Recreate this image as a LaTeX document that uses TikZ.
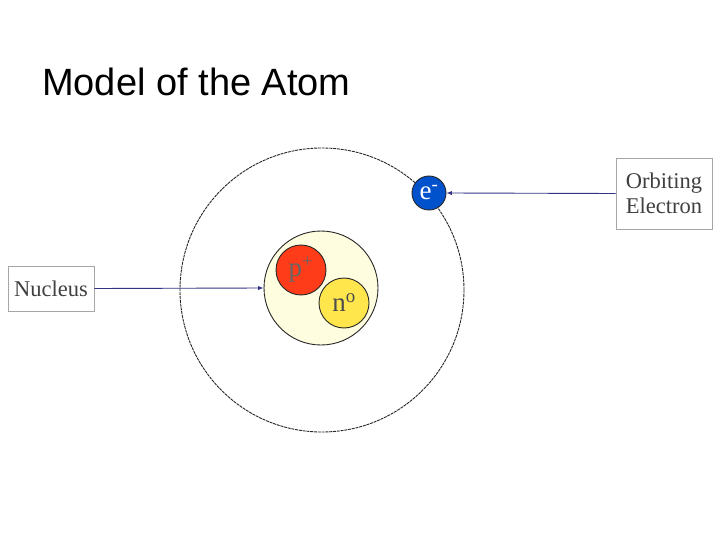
\documentclass[tikz,border=0pt]{standalone}
\usepackage{fontspec}
\setmainfont{Liberation Serif}
\newfontfamily\titlefont{Liberation Sans}
\begin{document}
\begin{tikzpicture}[x=1pt,y=-1pt,
  lbl/.style={draw=gray!70,line width=0.8pt,fill=white,text=black!75,font=\fontsize{22.5}{25}\selectfont,align=left,inner sep=0pt},
  con/.style={-latex,draw=blue!40!black!80,line width=0.9pt},
  part/.style={circle,draw=black!85,line width=0.9pt,inner sep=0pt}]
\useasboundingbox (0,0) rectangle (720,540);
\node[anchor=base west,font=\titlefont\fontsize{38}{44}\selectfont,inner sep=0pt] (title) at (42,96) {Model of the Atom};
\node[circle,draw=black!85,dashed,dash pattern=on 3pt off 0.8pt,line width=0.9pt,minimum size=284pt,inner sep=0pt] (orbit) at (322,290) {};
\node[part,fill=yellow!12,minimum size=114pt] (nuc) at (321,288) {};
\node[part,fill=red!70!orange!90,minimum size=50pt,font=\fontsize{27}{30}\selectfont,text=black!60] (p) at (301,270) {p\textsuperscript{+}};
\node[part,fill=yellow!80!orange!70,minimum size=50pt,font=\fontsize{27}{30}\selectfont,text=black!70] (n) at (344,303) {n\textsuperscript{o}};
\node[part,fill=blue!60!cyan!80!black,minimum size=34pt,text=white,font=\fontsize{27}{30}\selectfont] (e) at (429,193) {e\textsuperscript{-}};
\node[lbl,minimum width=96pt,minimum height=71pt,align=left] (ob) at (664,193.5) {Orbiting\\Electron};
\node[lbl,minimum width=86pt,minimum height=45pt] (nb) at (51,288.5) {Nucleus};
\draw[con] (ob.west) -- (e.east);
\draw[con] (nb.east) -- (nuc.west);
\end{tikzpicture}
\end{document}
